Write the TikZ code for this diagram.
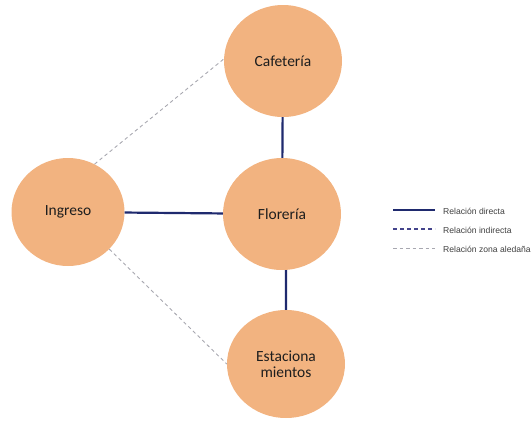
\documentclass[tikz,border=0pt]{standalone}
\usepackage{fontspec}
\setmainfont{Carlito}
\newfontfamily\legfont{Liberation Sans}
\usetikzlibrary{shapes.geometric}
\definecolor{peach}{HTML}{F2B380}
\definecolor{navy}{HTML}{1F2A6E}
\definecolor{indig}{HTML}{44448C}
\definecolor{lgray}{HTML}{A8A8B0}
\definecolor{txt}{HTML}{1E1E1E}
\tikzset{
  place/.style={ellipse, fill=peach, draw=none, minimum width=118pt, minimum height=112pt, inner sep=0pt, font=\fontsize{15.5}{17}\selectfont, text=txt, align=center},
  direct/.style={draw=navy, line width=2.2pt},
  indirect/.style={draw=indig, line width=1.6pt, dash pattern=on 4pt off 3pt},
  nearby/.style={draw=lgray, line width=0.9pt, dash pattern=on 3.5pt off 3pt},
  legtext/.style={anchor=west, inner sep=0pt, font=\legfont\fontsize{8.6}{10}\selectfont, text=txt!85}
}
\begin{document}
\begin{tikzpicture}[x=1pt,y=-1pt]
\useasboundingbox (0,0) rectangle (531,421);
\node[place] (caf) at (283,61) {Cafetería};
\node[place] (flo) at (282,214) {Florería};
\node[place, minimum width=113pt, minimum height=108pt] (ing) at (68,212) {Ingreso};
\node[place, minimum height=108pt] (est) at (286,364) {Estaciona\\[-1pt]mientos};
\draw[direct] (caf) -- (flo);
\draw[direct] (ing) -- (flo);
\draw[direct] (flo.-86) -- (est.north);
\draw[nearby] (ing.61) -- (caf.178);
\draw[nearby] (ing.-42) -- (est.180);
% legend
\coordinate (l1a) at (393,210); \coordinate (l1b) at (435,210);
\coordinate (l2a) at (393,229); \coordinate (l2b) at (435,229);
\coordinate (l3a) at (393,248); \coordinate (l3b) at (435,248);
\draw[direct, line width=2.2pt] (l1a) -- (l1b);
\draw[indirect] (l2a) -- (l2b);
\draw[nearby] (l3a) -- (l3b);
\node[legtext] (t1) at (443,211) {Relación directa};
\node[legtext] (t2) at (443,230) {Relación indirecta};
\node[legtext] (t3) at (443,249) {Relación zona aledaña};
\end{tikzpicture}
\end{document}
